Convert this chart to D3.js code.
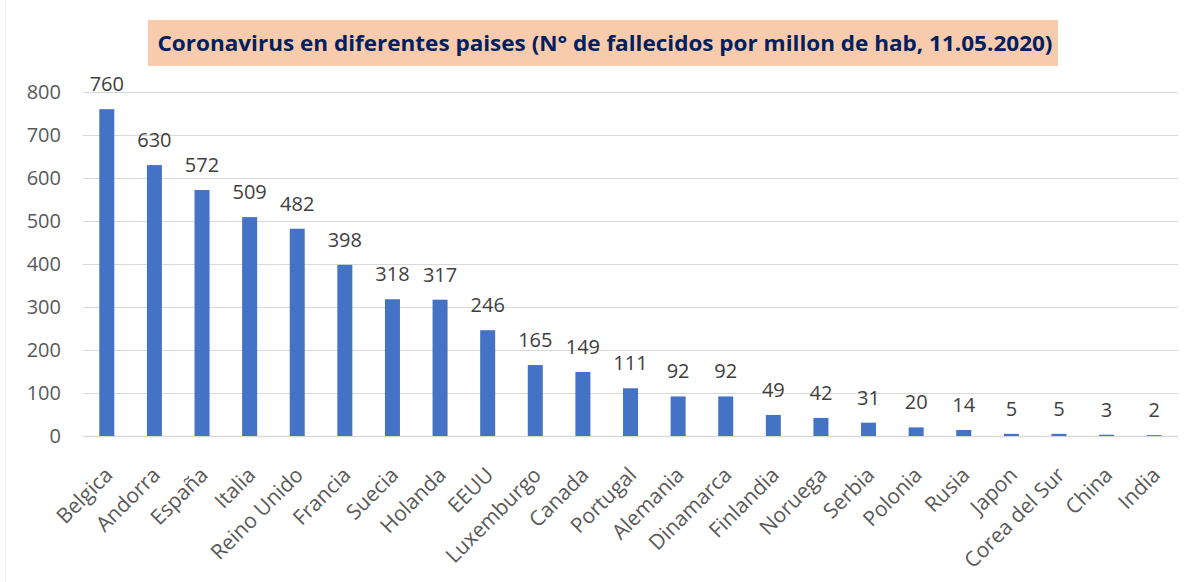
<!DOCTYPE html>
<html>
<head>
<meta charset="utf-8">
<script src="https://cdn.jsdelivr.net/npm/d3@7"></script>
<style>
  body { margin: 0; background: #fff; }
  svg { display: block; }
</style>
</head>
<body>
<script>
// data
const paises = ["Belgica", "Andorra", "España", "Italia", "Reino Unido", "Francia", "Suecia",
  "Holanda", "EEUU", "Luxemburgo", "Canada", "Portugal", "Alemania", "Dinamarca", "Finlandia",
  "Noruega", "Serbia", "Polonia", "Rusia", "Japon", "Corea del Sur", "China", "India"];
const fallecidos = [760, 630, 572, 509, 482, 398, 318, 317, 246, 165, 149, 111, 92, 92, 49, 42, 31, 20, 14, 5, 5, 3, 2];
const yTicks = [0, 100, 200, 300, 400, 500, 600, 700, 800];
const titulo = "Coronavirus en diferentes paises (N° de fallecidos por millon de hab, 11.05.2020)";

const W = 1202, H = 582;
const plotL = 83, plotR = 1178, plotT = 92, plotB = 436;

const svg = d3.select("body").append("svg")
  .attr("width", W)
  .attr("height", H);

// faint chart border on the left
svg.append("line")
  .attr("x1", 5.5).attr("x2", 5.5).attr("y1", 0).attr("y2", H)
  .attr("stroke", "#f0f0f0");

// title box
svg.append("rect")
  .attr("x", 148).attr("y", 20)
  .attr("width", 910).attr("height", 46)
  .attr("fill", "#f8cbad");

svg.append("text")
  .attr("x", 605).attr("y", 51)
  .attr("text-anchor", "middle")
  .attr("font-family", "'Open Sans', sans-serif")
  .attr("font-weight", "bold")
  .attr("font-size", 21)
  .attr("fill", "#002060")
  .attr("textLength", 895)
  .attr("lengthAdjust", "spacingAndGlyphs")
  .text(titulo);

const x = d3.scaleBand()
  .domain(paises)
  .range([plotL, plotR]);

const y = d3.scaleLinear()
  .domain([0, 800])
  .range([plotB, plotT]);

// grid lines
svg.append("g").selectAll("line")
  .data(yTicks)
  .enter().append("line")
  .attr("x1", plotL).attr("x2", plotR)
  .attr("y1", d => y(d) + 0.5).attr("y2", d => y(d) + 0.5)
  .attr("stroke", "#d9d9d9")
  .attr("stroke-width", d => d === 0 ? 1.5 : 1);

// y axis labels
const yAxis = svg.append("g")
  .attr("transform", `translate(${plotL - 22},0)`)
  .call(d3.axisLeft(y).tickValues(yTicks).tickSize(0).tickPadding(0));
yAxis.select(".domain").remove();
yAxis.selectAll("text")
  .attr("font-family", "'Open Sans', sans-serif")
  .attr("font-size", 20)
  .attr("fill", "#595959");

// bars
const barW = 15;
svg.append("g").selectAll("rect")
  .data(fallecidos)
  .enter().append("rect")
  .attr("x", (d, i) => x(paises[i]) + x.bandwidth() / 2 - barW / 2)
  .attr("y", d => y(d))
  .attr("width", barW)
  .attr("height", d => plotB - y(d))
  .attr("fill", "#4472c4");

// value labels
svg.append("g").selectAll("text")
  .data(fallecidos)
  .enter().append("text")
  .attr("x", (d, i) => x(paises[i]) + x.bandwidth() / 2)
  .attr("y", d => y(d) - 18)
  .attr("text-anchor", "middle")
  .attr("font-family", "'Open Sans', sans-serif")
  .attr("font-size", 20)
  .attr("fill", "#404040")
  .text(d => d);

// category labels, rotated
svg.append("g").selectAll("text")
  .data(paises)
  .enter().append("text")
  .attr("transform", d => `translate(${x(d) + x.bandwidth() / 2 + 2},${plotB + 35}) rotate(-45)`)
  .attr("text-anchor", "end")
  .attr("dy", "0.35em")
  .attr("font-family", "'Open Sans', sans-serif")
  .attr("font-size", 21)
  .attr("fill", "#595959")
  .text(d => d);
</script>
</body>
</html>
